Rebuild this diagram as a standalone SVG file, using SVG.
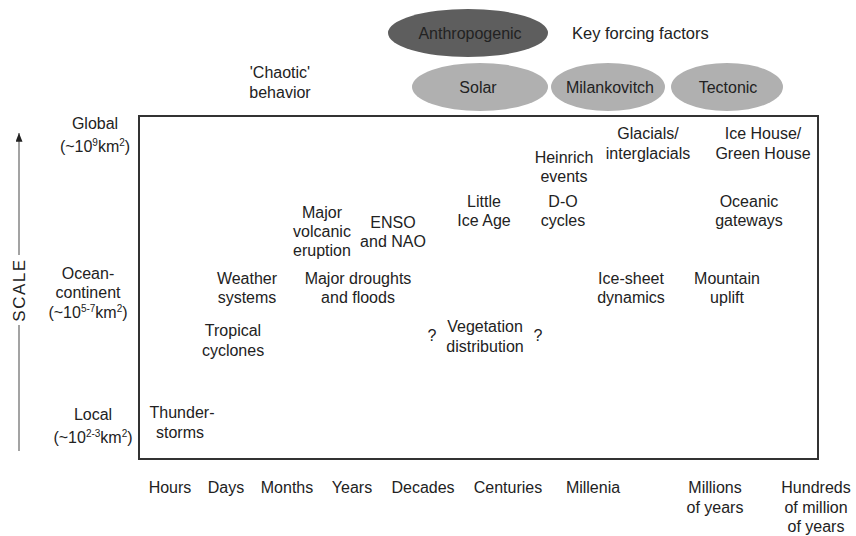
<svg xmlns="http://www.w3.org/2000/svg" width="856" height="536" viewBox="0 0 856 536">
<style>
text{font-family:"Liberation Sans",Arial,sans-serif;font-size:16px;fill:#222;text-anchor:middle}
.sup{font-size:10px}
.dark{fill:#5e5e5e}
.light{fill:#b0b0b0}
.axis{stroke:#666;stroke-width:1.2;fill:none}
</style>
<defs>
<marker id="ah" viewBox="0 0 10 8" refX="10" refY="4" markerWidth="11" markerHeight="7" orient="auto" markerUnits="userSpaceOnUse">
<path d="M0,0 L10,4 L0,8 z" fill="#222"/>
</marker>
</defs>
<rect width="856" height="536" fill="#fff"/>

<g id="frame">
<rect x="139" y="116" width="679" height="343" fill="none" stroke="#333" stroke-width="2"/>
</g>

<g id="connectors">
<line class="axis" x1="19" y1="451" x2="19" y2="325"/>
<line class="axis" x1="19" y1="255" x2="19" y2="133" marker-end="url(#ah)"/>
</g>
<text x="19" y="290" transform="rotate(-90 19 290)" dy="6" style="font-size:17px;letter-spacing:1.5px">SCALE</text>

<g id="forcing">
<g id="anthropogenic"><ellipse class="dark" cx="468" cy="33" rx="80" ry="24"/><text x="470" y="39">Anthropogenic</text></g>
<text x="572" y="39" style="text-anchor:start;font-size:16.5px">Key forcing factors</text>
<g id="solar"><ellipse class="light" cx="480" cy="87" rx="68" ry="24"/><text x="478" y="93">Solar</text></g>
<g id="milankovitch"><ellipse class="light" cx="608" cy="87" rx="57" ry="24"/><text x="610" y="93">Milankovitch</text></g>
<g id="tectonic"><ellipse class="light" cx="727" cy="87" rx="56" ry="24"/><text x="728" y="93">Tectonic</text></g>
</g>

<g id="chaotic"><text x="280" y="78">'Chaotic'</text><text x="280" y="98">behavior</text></g>

<g id="scale-labels">
<g id="global"><text x="95" y="129">Global</text><text x="95" y="152">(~10<tspan class="sup" dy="-6">9</tspan><tspan dy="6">km</tspan><tspan class="sup" dy="-6">2</tspan><tspan dy="6">)</tspan></text></g>
<g id="ocean"><text x="88" y="279">Ocean-</text><text x="88" y="298">continent</text><text x="88" y="318">(~10<tspan class="sup" dy="-6">5-7</tspan><tspan dy="6">km</tspan><tspan class="sup" dy="-6">2</tspan><tspan dy="6">)</tspan></text></g>
<g id="local"><text x="93" y="420">Local</text><text x="93" y="443">(~10<tspan class="sup" dy="-6">2-3</tspan><tspan dy="6">km</tspan><tspan class="sup" dy="-6">2</tspan><tspan dy="6">)</tspan></text></g>
</g>

<g id="phenomena">
<g id="thunderstorms"><text x="182" y="418">Thunder-</text><text x="180" y="438">storms</text></g>
<g id="weather"><text x="247" y="284">Weather</text><text x="247" y="303">systems</text></g>
<g id="tropical"><text x="233" y="336">Tropical</text><text x="233" y="356">cyclones</text></g>
<g id="volcanic"><text x="322" y="218">Major</text><text x="322" y="237">volcanic</text><text x="322" y="256">eruption</text></g>
<g id="enso"><text x="393" y="228">ENSO</text><text x="393" y="247">and NAO</text></g>
<g id="droughts"><text x="358" y="284">Major droughts</text><text x="358" y="303">and floods</text></g>
<g id="q1"><text x="432" y="341">?</text></g>
<g id="vegetation"><text x="485" y="332">Vegetation</text><text x="485" y="352">distribution</text></g>
<g id="q2"><text x="538" y="341">?</text></g>
<g id="lia"><text x="484" y="207">Little</text><text x="484" y="226">Ice Age</text></g>
<g id="heinrich"><text x="564" y="163">Heinrich</text><text x="564" y="182">events</text></g>
<g id="do"><text x="563" y="207">D-O</text><text x="563" y="226">cycles</text></g>
<g id="glacials"><text x="648" y="139">Glacials/</text><text x="648" y="159">interglacials</text></g>
<g id="icehouse"><text x="763" y="139">Ice House/</text><text x="763" y="159">Green House</text></g>
<g id="gateways"><text x="749" y="207">Oceanic</text><text x="749" y="226">gateways</text></g>
<g id="icesheet"><text x="631" y="284">Ice-sheet</text><text x="631" y="303">dynamics</text></g>
<g id="uplift"><text x="727" y="284">Mountain</text><text x="727" y="303">uplift</text></g>
</g>

<g id="time-labels">
<text x="170" y="493">Hours</text>
<text x="226" y="493">Days</text>
<text x="287" y="493">Months</text>
<text x="352" y="493">Years</text>
<text x="423" y="493">Decades</text>
<text x="508" y="493">Centuries</text>
<text x="593" y="493">Millenia</text>
<g id="millions"><text x="715" y="493">Millions</text><text x="715" y="513">of years</text></g>
<g id="hundreds"><text x="816" y="493">Hundreds</text><text x="816" y="513">of million</text><text x="816" y="532">of years</text></g>
</g>
</svg>
